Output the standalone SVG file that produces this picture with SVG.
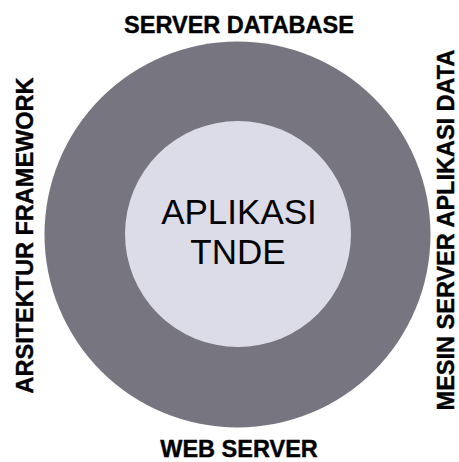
<svg xmlns="http://www.w3.org/2000/svg" width="459" height="462" viewBox="0 0 459 462">
<style>
.lbl{font-family:"Liberation Sans",Arial,sans-serif;font-weight:bold;font-size:23.5px;fill:#000;stroke:#000;stroke-width:0.4;text-anchor:middle}
.core{font-family:"Liberation Sans",Arial,sans-serif;font-size:35px;fill:#000;text-anchor:middle}
</style>
<rect width="459" height="462" fill="#ffffff"/>
<g id="outer">
<circle cx="237.5" cy="234.5" r="193" fill="#77757f"/>
</g>
<g id="inner">
<circle cx="238" cy="234" r="113" fill="#dcdbe8"/>
<text class="core" x="239" y="224">APLIKASI</text>
<text class="core" x="238" y="264">TNDE</text>
</g>
<g id="label-top"><text class="lbl" x="239" y="33">SERVER DATABASE</text></g>
<g id="label-bottom"><text class="lbl" x="239" y="456.5">WEB SERVER</text></g>
<g id="label-left"><text class="lbl" transform="translate(33.3,235.5) rotate(-90)">ARSITEKTUR FRAMEWORK</text></g>
<g id="label-right"><text class="lbl" transform="translate(453.5,230) rotate(-90)">MESIN SERVER APLIKASI DATA</text></g>
<g id="connectors"></g>
</svg>
